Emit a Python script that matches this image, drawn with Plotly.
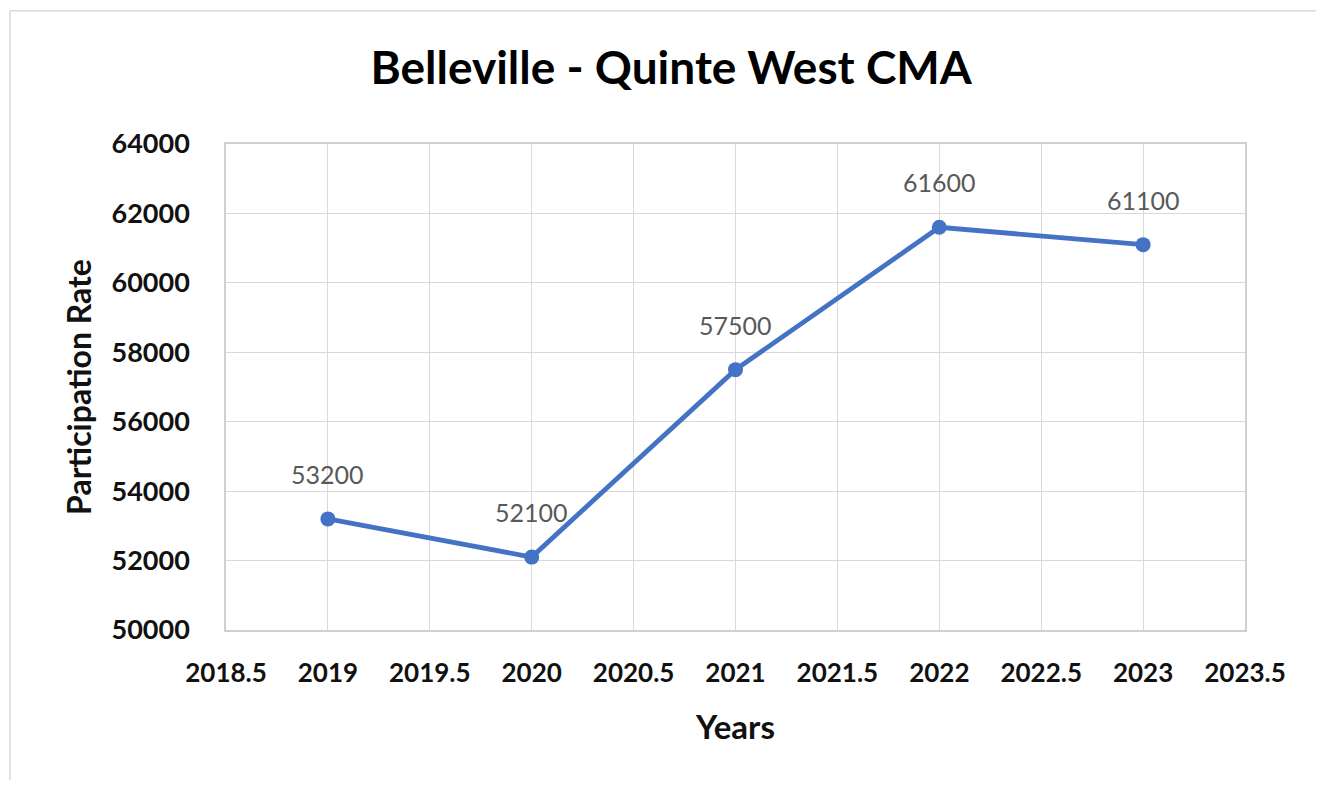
import plotly.graph_objects as go

years = [2019, 2020, 2021, 2022, 2023]
values = [53200, 52100, 57500, 61600, 61100]
labels = ["53200", "52100", "57500", "61600", "61100"]
x_ticks = [2018.5, 2019, 2019.5, 2020, 2020.5, 2021, 2021.5, 2022, 2022.5, 2023, 2023.5]
y_ticks = [50000, 52000, 54000, 56000, 58000, 60000, 62000, 64000]

FONT = "Lato, 'Open Sans', sans-serif"

fig = go.Figure()
fig.add_trace(go.Scatter(
    x=years, y=values, mode="lines+markers",
    line=dict(color="#4472C4", width=4.8),
    marker=dict(color="#4472C4", size=15),
    hoverinfo="x+y", showlegend=False,
))

for x, y, t in zip(years, values, labels):
    fig.add_annotation(x=x, y=y, text=t, showarrow=False, yshift=45,
                       font=dict(family=FONT, size=25, color="#595959"))

fig.update_layout(
    width=1308, height=772,
    paper_bgcolor="white", plot_bgcolor="white",
    margin=dict(l=218, r=71, t=136, b=150),
    title=dict(text="<b>Belleville - Quinte West CMA</b>", x=0.507, xanchor="center",
               xref="container", y=0.922, yanchor="middle",
               font=dict(family=FONT, size=46, color="black")),
    xaxis=dict(range=[2018.5, 2023.5], tickvals=x_ticks,
               ticktext=[("<b>%g</b>" % v) for v in x_ticks],
               showgrid=True, gridcolor="#d9d9d9", gridwidth=1,
               showline=True, linecolor="#d0d0d0", linewidth=1.5, mirror=True,
               zeroline=False, ticks="", ticklabelstandoff=19,
               tickfont=dict(family=FONT, size=26, color="#111"),
               title=dict(text="<b>Years</b>", standoff=29,
                          font=dict(family=FONT, size=33, color="#111"))),
    yaxis=dict(range=[50000, 64000], tickvals=y_ticks,
               ticktext=["<b>%d</b>" % v for v in y_ticks],
               showgrid=True, gridcolor="#d9d9d9", gridwidth=1,
               showline=True, linecolor="#d0d0d0", linewidth=1.5, mirror=True,
               zeroline=False, ticks="", ticklabelstandoff=29,
               tickfont=dict(family=FONT, size=27, color="#111"),
               title=dict(text="<b>Participation Rate</b>", standoff=10,
                          font=dict(family=FONT, size=32, color="#111"))),
)

# outer chart-area border (top and left edges visible in the reference)
fig.add_shape(type="line", xref="paper", yref="paper",
              x0=-0.212, x1=1.08, y0=1.274, y1=1.274,
              line=dict(color="#d9d9d9", width=1.5), layer="below")
fig.add_shape(type="line", xref="paper", yref="paper",
              x0=-0.212, x1=-0.212, y0=1.274, y1=-0.33,
              line=dict(color="#d9d9d9", width=1.5), layer="below")

fig.write_html("out.html")
